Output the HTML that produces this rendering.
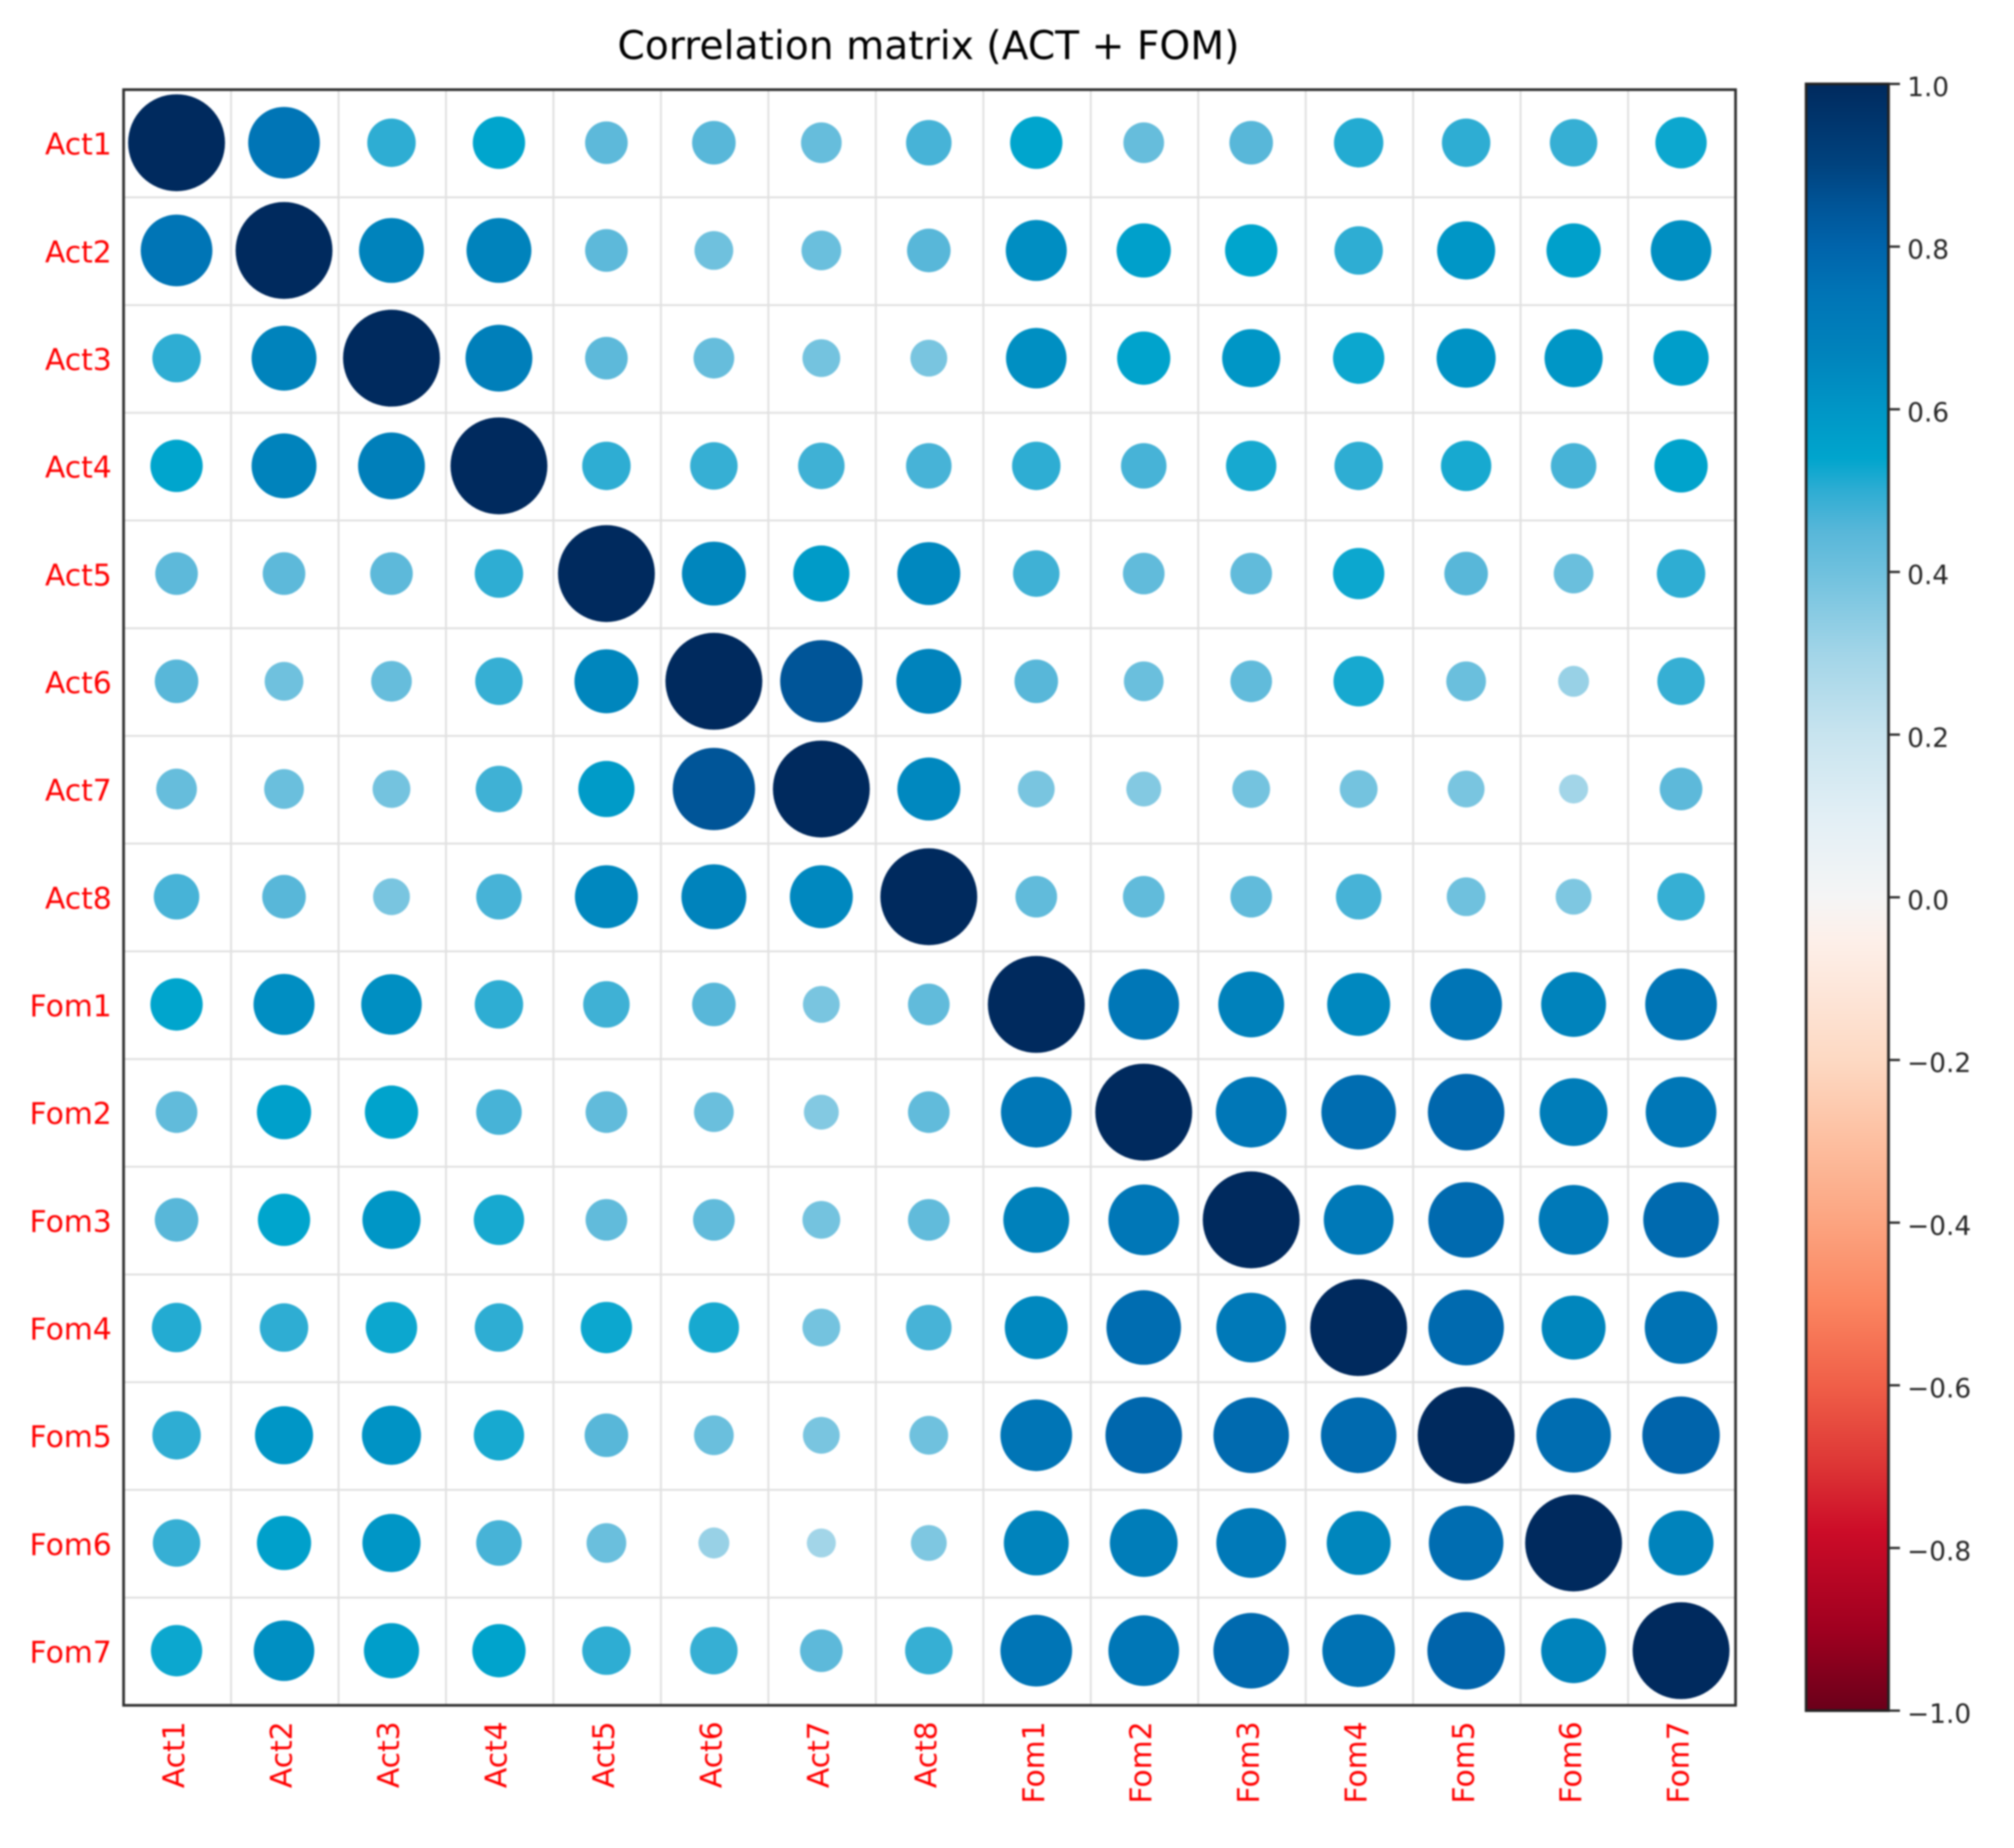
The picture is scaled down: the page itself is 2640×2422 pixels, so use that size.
<!DOCTYPE html>
<html lang="en">
<head>
<meta charset="utf-8">
<title>Correlation matrix (ACT + FOM)</title>
<style>
  html, body { margin: 0; padding: 0; background: #fff; }
  svg { display: block; filter: blur(1.1px); }
  text { font-family: "DejaVu Sans", "Liberation Sans", sans-serif; }
</style>
</head>
<body>
<svg id="chart" xmlns="http://www.w3.org/2000/svg" width="2640" height="2422" viewBox="0 0 2640 2422">
  <rect x="0" y="0" width="2640" height="2422" fill="#ffffff"/>
  <text x="1217" y="77.5" font-size="51.4" text-anchor="middle" fill="#000">Correlation matrix (ACT + FOM)</text>
  <defs>
    <linearGradient id="cbar-gradient" gradientUnits="userSpaceOnUse" x1="0" x2="0" y1="110" y2="2242"></linearGradient>
  </defs>
  <g id="grid"></g>
  <g id="marks"></g>
  <rect x="162" y="117.5" width="2113" height="2117.5" fill="none" stroke="#2e2e2e" stroke-width="3.5"/>
  <g id="xlabels"></g>
  <g id="ylabels"></g>
  <rect x="2367.5" y="110" width="108" height="2132" fill="url(#cbar-gradient)" stroke="#222222" stroke-width="3.5"/>
  <g id="cbticks"></g>
</svg>
<script>
const categories = ["Act1","Act2","Act3","Act4","Act5","Act6","Act7","Act8","Fom1","Fom2","Fom3","Fom4","Fom5","Fom6","Fom7"];

const rowAct1 = [1.00,0.74,0.50,0.54,0.44,0.45,0.42,0.47,0.54,0.42,0.45,0.51,0.50,0.49,0.53];
const rowAct2 = [0.74,1.00,0.67,0.67,0.44,0.40,0.41,0.45,0.63,0.56,0.54,0.50,0.60,0.56,0.625];
const rowAct3 = [0.50,0.67,1.00,0.69,0.44,0.42,0.39,0.38,0.625,0.55,0.60,0.53,0.61,0.60,0.57];
const rowAct4 = [0.54,0.67,0.69,1.00,0.50,0.49,0.48,0.47,0.50,0.47,0.52,0.50,0.52,0.47,0.55];
const rowAct5 = [0.44,0.44,0.44,0.50,1.00,0.66,0.58,0.65,0.48,0.43,0.43,0.53,0.45,0.41,0.50];
const rowAct6 = [0.45,0.40,0.42,0.49,0.66,1.00,0.85,0.67,0.45,0.41,0.43,0.52,0.41,0.32,0.49];
const rowAct7 = [0.42,0.41,0.39,0.48,0.58,0.85,1.00,0.65,0.38,0.36,0.39,0.39,0.38,0.30,0.44];
const rowAct8 = [0.47,0.45,0.38,0.47,0.65,0.67,0.65,1.00,0.43,0.43,0.43,0.47,0.40,0.37,0.49];
const rowFom1 = [0.54,0.63,0.625,0.50,0.48,0.45,0.38,0.43,1.00,0.73,0.68,0.65,0.74,0.67,0.74];
const rowFom2 = [0.43,0.56,0.55,0.47,0.43,0.41,0.36,0.43,0.73,1.00,0.73,0.77,0.79,0.70,0.73];
const rowFom3 = [0.45,0.54,0.60,0.52,0.43,0.43,0.39,0.43,0.68,0.73,1.00,0.72,0.78,0.72,0.78];
const rowFom4 = [0.51,0.50,0.53,0.50,0.53,0.52,0.39,0.47,0.65,0.77,0.72,1.00,0.78,0.66,0.75];
const rowFom5 = [0.50,0.60,0.61,0.52,0.45,0.41,0.38,0.40,0.74,0.79,0.78,0.78,1.00,0.77,0.80];
const rowFom6 = [0.49,0.56,0.60,0.47,0.41,0.32,0.30,0.37,0.67,0.70,0.72,0.66,0.77,1.00,0.67];
const rowFom7 = [0.53,0.625,0.57,0.55,0.50,0.49,0.44,0.49,0.74,0.73,0.78,0.75,0.80,0.67,1.00];
const matrix = [rowAct1,rowAct2,rowAct3,rowAct4,rowAct5,rowAct6,rowAct7,rowAct8,rowFom1,rowFom2,rowFom3,rowFom4,rowFom5,rowFom6,rowFom7];

const colorbarTicks = [1.0,0.8,0.6,0.4,0.2,0.0,-0.2,-0.4,-0.6,-0.8,-1.0];

const cmapValues = [1.0,0.9,0.85,0.8,0.74,0.67,0.6,0.54,0.5,0.45,0.4,0.3,0.2,0.1,0.0,-0.05,-0.2,-0.3,-0.4,-0.5,-0.6,-0.7,-0.78,-0.9,-1.0];
const cmapColors = ["#002a5e","#00437f","#005598","#0064ab","#0075b6","#0083bc","#0096c6","#00a5cd","#2eadd3","#58b7d9","#6fc1de","#a2d5e8","#c8e4ef","#e2eff5","#f5f5f5","#fdf0ea","#fdd9c3","#fdbfa0","#fca480","#fb8560","#f05f48","#dd3535","#cc0c28","#a00020","#6a001a"];

const NS = "http://www.w3.org/2000/svg";
const plotLeft = 162, plotRight = 2275, plotTop = 117.5, plotBottom = 2235;
const cbTop = 110, cbBottom = 2242, cbRight = 2475.5;
const maxRadius = 63.5;
const markOffset = -1;
const n = categories.length;
const cellW = (plotRight - plotLeft) / n;
const cellH = (plotBottom - plotTop) / n;

function xScale(i) { return plotLeft + (i + 0.5) * cellW; }
function yScale(i) { return plotTop + (i + 0.5) * cellH; }
function rScale(v) { return Math.abs(v) * maxRadius; }
function cbScale(v) { return cbTop + (1 - v) / 2 * (cbBottom - cbTop); }

function hexToRgb(h) {
  return [parseInt(h.slice(1,3),16), parseInt(h.slice(3,5),16), parseInt(h.slice(5,7),16)];
}
function colorFor(v) {
  const c = Math.max(-1, Math.min(1, v));
  for (let k = 0; k < cmapValues.length - 1; k++) {
    const hi = cmapValues[k], lo = cmapValues[k + 1];
    if (c <= hi && c >= lo) {
      const t = (hi - c) / (hi - lo);
      const a = hexToRgb(cmapColors[k]), b = hexToRgb(cmapColors[k + 1]);
      return "rgb(" + a.map((x, m) => Math.round(x + (b[m] - x) * t)).join(",") + ")";
    }
  }
  return cmapColors[cmapColors.length - 1];
}
function make(tag, attrs) {
  const el = document.createElementNS(NS, tag);
  for (const key in attrs) el.setAttribute(key, attrs[key]);
  return el;
}

const grad = document.getElementById("cbar-gradient");
cmapValues.forEach((v, k) => {
  const stop = make("stop", { offset: (1 - v) / 2, "stop-color": cmapColors[k] });
  
  
  grad.appendChild(stop);
});

const gridGroup = document.getElementById("grid");
for (let i = 1; i < n; i++) {
  const vx = plotLeft + i * cellW;
  const vLine = make("line", { x1: vx, x2: vx, y1: plotTop, y2: plotBottom, stroke: "#e0e0e0", "stroke-width": 2.5 });
  
  
  gridGroup.appendChild(vLine);
  const hy = plotTop + i * cellH;
  const hLine = make("line", { x1: plotLeft, x2: plotRight, y1: hy, y2: hy, stroke: "#e0e0e0", "stroke-width": 2.5 });
  
  
  gridGroup.appendChild(hLine);
}

const marksGroup = document.getElementById("marks");
matrix.forEach((row, r) => {
  row.forEach((v, c) => {
    const dot = make("circle", { cx: xScale(c) + markOffset, cy: yScale(r) + markOffset, r: rScale(v), fill: colorFor(v) });
    
    
    marksGroup.appendChild(dot);
  });
});

const xGroup = document.getElementById("xlabels");
const yGroup = document.getElementById("ylabels");
categories.forEach((name, i) => {
  const bx = xScale(i) + 9, by = 2256;
  const xt = make("text", { x: bx, y: by, "font-size": 39, fill: "#ff0000", "text-anchor": "end", transform: "rotate(-90 " + bx + " " + by + ")" });
  xt.textContent = name;
  
  
  xGroup.appendChild(xt);
  const yt = make("text", { x: 146.5, y: yScale(i) + 14.5, "font-size": 39, fill: "#ff0000", "text-anchor": "end" });
  yt.textContent = name;
  
  
  yGroup.appendChild(yt);
});

const tickGroup = document.getElementById("cbticks");
colorbarTicks.forEach(v => {
  const ty = cbScale(v);
  const tick = make("line", { x1: cbRight, x2: cbRight + 15, y1: ty, y2: ty, stroke: "#2a2a2a", "stroke-width": 3 });
  
  
  tickGroup.appendChild(tick);
  const label = make("text", { x: 2500, y: ty + 16, "font-size": 34.5, fill: "#262626" });
  label.textContent = (v < 0 ? "\u2212" : "") + Math.abs(v).toFixed(1);
  
  
  tickGroup.appendChild(label);
});
</script>
</body>
</html>
